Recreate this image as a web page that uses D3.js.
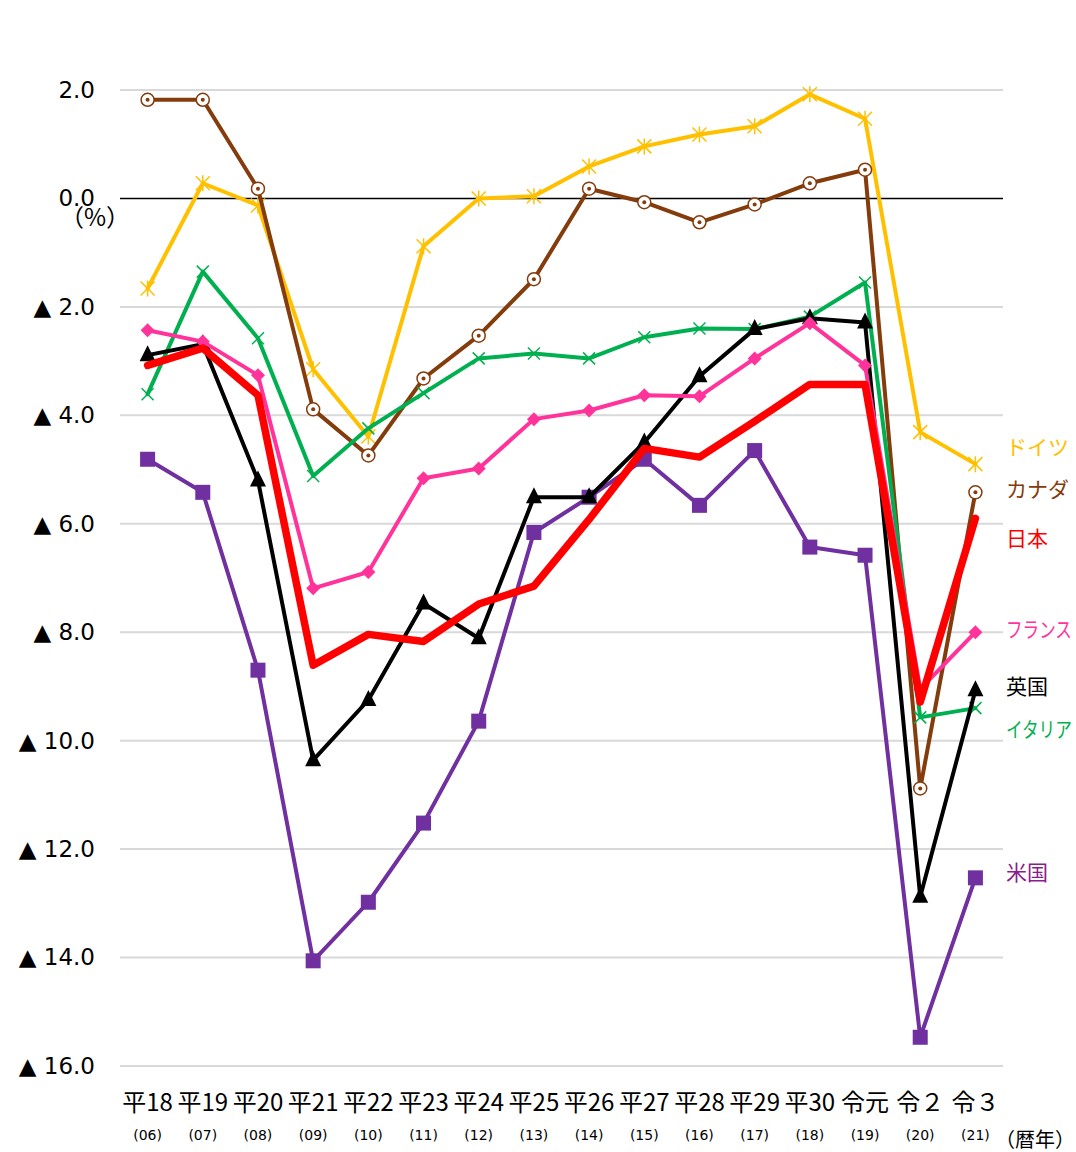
<!DOCTYPE html>
<html>
<head>
<meta charset="utf-8">
<script src="https://cdn.jsdelivr.net/npm/d3@7"></script>
<style>
  body { margin: 0; background: #fff; }
  text { font-family: "DejaVu Sans", Verdana, sans-serif; }
  .jp { font-family: "Noto Sans CJK JP", "DejaVu Sans", sans-serif; }
</style>
</head>
<body>
<svg id="chart"></svg>
<script>
// categories (era year) and western year sub labels
const years = ['平18','平19','平20','平21','平22','平23','平24','平25','平26','平27','平28','平29','平30','令元','令２','令３']
const subYears = ['(06)','(07)','(08)','(09)','(10)','(11)','(12)','(13)','(14)','(15)','(16)','(17)','(18)','(19)','(20)','(21)']
const yTicks = [2, 0, -2, -4, -6, -8, -10, -12, -14, -16]

// fiscal balance, % of GDP
const germany = [-1.66, 0.28, -0.13, -3.15, -4.39, -0.88, 0.0, 0.04, 0.59, 0.96, 1.18, 1.33, 1.92, 1.47, -4.31, -4.90]
const canada  = [1.82, 1.82, 0.18, -3.89, -4.74, -3.32, -2.53, -1.49, 0.18, -0.07, -0.44, -0.11, 0.28, 0.53, -10.88, -5.42]
const japan   = [-3.08, -2.76, -3.63, -8.61, -8.04, -8.17, -7.48, -7.15, -5.92, -4.61, -4.77, -4.11, -3.43, -3.43, -9.29, -5.90]
const france  = [-2.43, -2.64, -3.26, -7.19, -6.89, -5.16, -4.98, -4.07, -3.91, -3.63, -3.65, -2.95, -2.30, -3.08, -9.05, -8.00]
const uk      = [-2.89, -2.69, -5.20, -10.36, -9.25, -7.47, -8.11, -5.51, -5.51, -4.50, -3.28, -2.41, -2.21, -2.29, -12.88, -9.07]
const italy   = [-3.61, -1.35, -2.58, -5.12, -4.24, -3.59, -2.95, -2.86, -2.95, -2.56, -2.40, -2.41, -2.18, -1.55, -9.57, -9.40]
const usa     = [-4.81, -5.42, -8.70, -14.06, -12.98, -11.52, -9.64, -6.16, -5.51, -4.81, -5.66, -4.65, -6.43, -6.58, -15.47, -12.53]

const series = [
  {name: 'ドイツ',   values: germany, color: '#FFC000', text: '#FFC000', marker: 'star',     width: 4},
  {name: 'カナダ',   values: canada,  color: '#843C0C', text: '#843C0C', marker: 'circle',   width: 4},
  {name: '米国',     values: usa,     color: '#7030A0', text: '#8B1C8B', marker: 'square',   width: 4},
  {name: 'イタリア', values: italy,   color: '#00B050', text: '#00B050', marker: 'cross',    width: 4},
  {name: '英国',     values: uk,      color: '#000000', text: '#000000', marker: 'triangle', width: 4},
  {name: 'フランス', values: france,  color: '#FF3399', text: '#FF3399', marker: 'diamond',  width: 4},
  {name: '日本',     values: japan,   color: '#FF0000', text: '#FF0000', marker: 'none',     width: 7.5},
]
// legend label positions (value on y axis where the label sits)
const labelValues = {'ドイツ': -4.6, 'カナダ': -5.37, '日本': -6.28, 'フランス': -7.95, '英国': -9.0, 'イタリア': -9.8, '米国': -12.44}

const width = 1076, height = 1152
const mLeft = 120, mRight = 1003, mTop = 90, mBottom = 1066

const svg = d3.select('#chart').attr('width', width).attr('height', height)

const x = d3.scaleBand(years, [mLeft, mRight]).padding(0)
const cx = d => x(d) + x.bandwidth() / 2
const y = d3.scaleLinear([2, -16], [mTop, mBottom])

// gridlines
svg.append('g')
   .selectAll('line')
   .data(yTicks.filter(t => t != 0))
   .join('line')
     .attr('x1', mLeft).attr('x2', mRight)
     .attr('y1', d => y(d)).attr('y2', d => y(d))
     .attr('stroke', '#d9d9d9')
     .attr('stroke-width', 2)

// zero line
svg.append('line')
   .attr('x1', mLeft).attr('x2', mRight)
   .attr('y1', y(0)).attr('y2', y(0))
   .attr('stroke', '#000').attr('stroke-width', 1.5)

// y axis labels
const yAxis = d3.axisLeft(y)
    .tickValues(yTicks)
    .tickSize(0)
    .tickPadding(0)
    .tickFormat(d => d >= 0 ? d.toFixed(1) : '▲ ' + (-d).toFixed(1))
const yg = svg.append('g').attr('transform', 'translate(95,0)').call(yAxis)
yg.select('.domain').remove()
yg.selectAll('text')
  .attr('font-size', 23)
  .attr('fill', '#000')
  .style('font-family', '"DejaVu Sans", sans-serif')

svg.append('text')
   .attr('class', 'jp')
   .attr('x', 95).attr('y', 226)
   .attr('text-anchor', 'middle')
   .attr('font-size', 24)
   .text('（%）')

// x axis labels
const xAxis = d3.axisBottom(x).tickSize(0).tickPadding(0)
const xg = svg.append('g').attr('transform', 'translate(0,1089)').call(xAxis)
xg.select('.domain').remove()
xg.selectAll('text')
  .attr('class', 'jp')
  .attr('font-size', 24)
  .attr('fill', '#000')
  .attr('dy', '0.9em')

svg.append('g')
   .selectAll('text')
   .data(years)
   .join('text')
     .attr('x', d => cx(d))
     .attr('y', 1140)
     .attr('text-anchor', 'middle')
     .attr('font-size', 14)
     .text((d, i) => subYears[i])

svg.append('text')
   .attr('class', 'jp')
   .attr('x', 1035).attr('y', 1147)
   .attr('text-anchor', 'middle')
   .attr('font-size', 20)
   .text('（暦年）')

// series lines and markers
const line = d3.line().x((d, i) => cx(years[i])).y(d => y(d))

function drawMarker(g, s) {
  const pts = g.selectAll('.m').data(s.values).join('g')
      .attr('class', 'm')
      .attr('transform', (d, i) => `translate(${cx(years[i])},${y(d)})`)
  if (s.marker == 'circle') {
    pts.append('circle').attr('r', 6.5).attr('fill', '#fff').attr('stroke', s.color).attr('stroke-width', 1.5)
    pts.append('circle').attr('r', 2).attr('fill', s.color)
  } else if (s.marker == 'square') {
    pts.append('rect').attr('x', -7.5).attr('y', -7.5).attr('width', 15).attr('height', 15).attr('fill', s.color)
  } else if (s.marker == 'diamond') {
    pts.append('path').attr('d', 'M0,-7L7,0L0,7L-7,0Z').attr('fill', s.color)
  } else if (s.marker == 'triangle') {
    pts.append('path').attr('d', 'M0,-10L8,6L-8,6Z').attr('fill', s.color)
  } else if (s.marker == 'cross') {
    pts.append('path').attr('d', 'M-6,-6L6,6M-6,6L6,-6').attr('stroke', s.color).attr('stroke-width', 1.5)
  } else if (s.marker == 'star') {
    pts.append('path').attr('d', 'M-7,-7L7,7M-7,7L7,-7M0,-8L0,8').attr('stroke', s.color).attr('stroke-width', 1.5)
  }
}

for (const s of series) {
  const g = svg.append('g')
  g.append('path')
   .attr('d', line(s.values))
   .attr('fill', 'none')
   .attr('stroke', s.color)
   .attr('stroke-width', s.width)
   .attr('stroke-linejoin', 'round')
   .attr('stroke-linecap', 'round')
  drawMarker(g, s)
}

// series labels at right
const labelX = 1006
const labels = svg.append('g')
   .selectAll('text')
   .data(series)
   .join('text')
     .attr('class', 'jp')
     .attr('x', labelX)
     .attr('y', s => y(labelValues[s.name]))
     .attr('dy', '0.35em')
     .attr('font-size', 21)
     .attr('fill', s => s.text)
     .text(s => s.name)
// squeeze the long katakana names horizontally so they stay inside the frame
labels.each(function() {
  const w = this.getComputedTextLength()
  if (w > 66) {
    const k = 66 / w
    d3.select(this).attr('transform', `translate(${labelX},0) scale(${k},1) translate(${-labelX},0)`)
  }
})
</script>
</body>
</html>
